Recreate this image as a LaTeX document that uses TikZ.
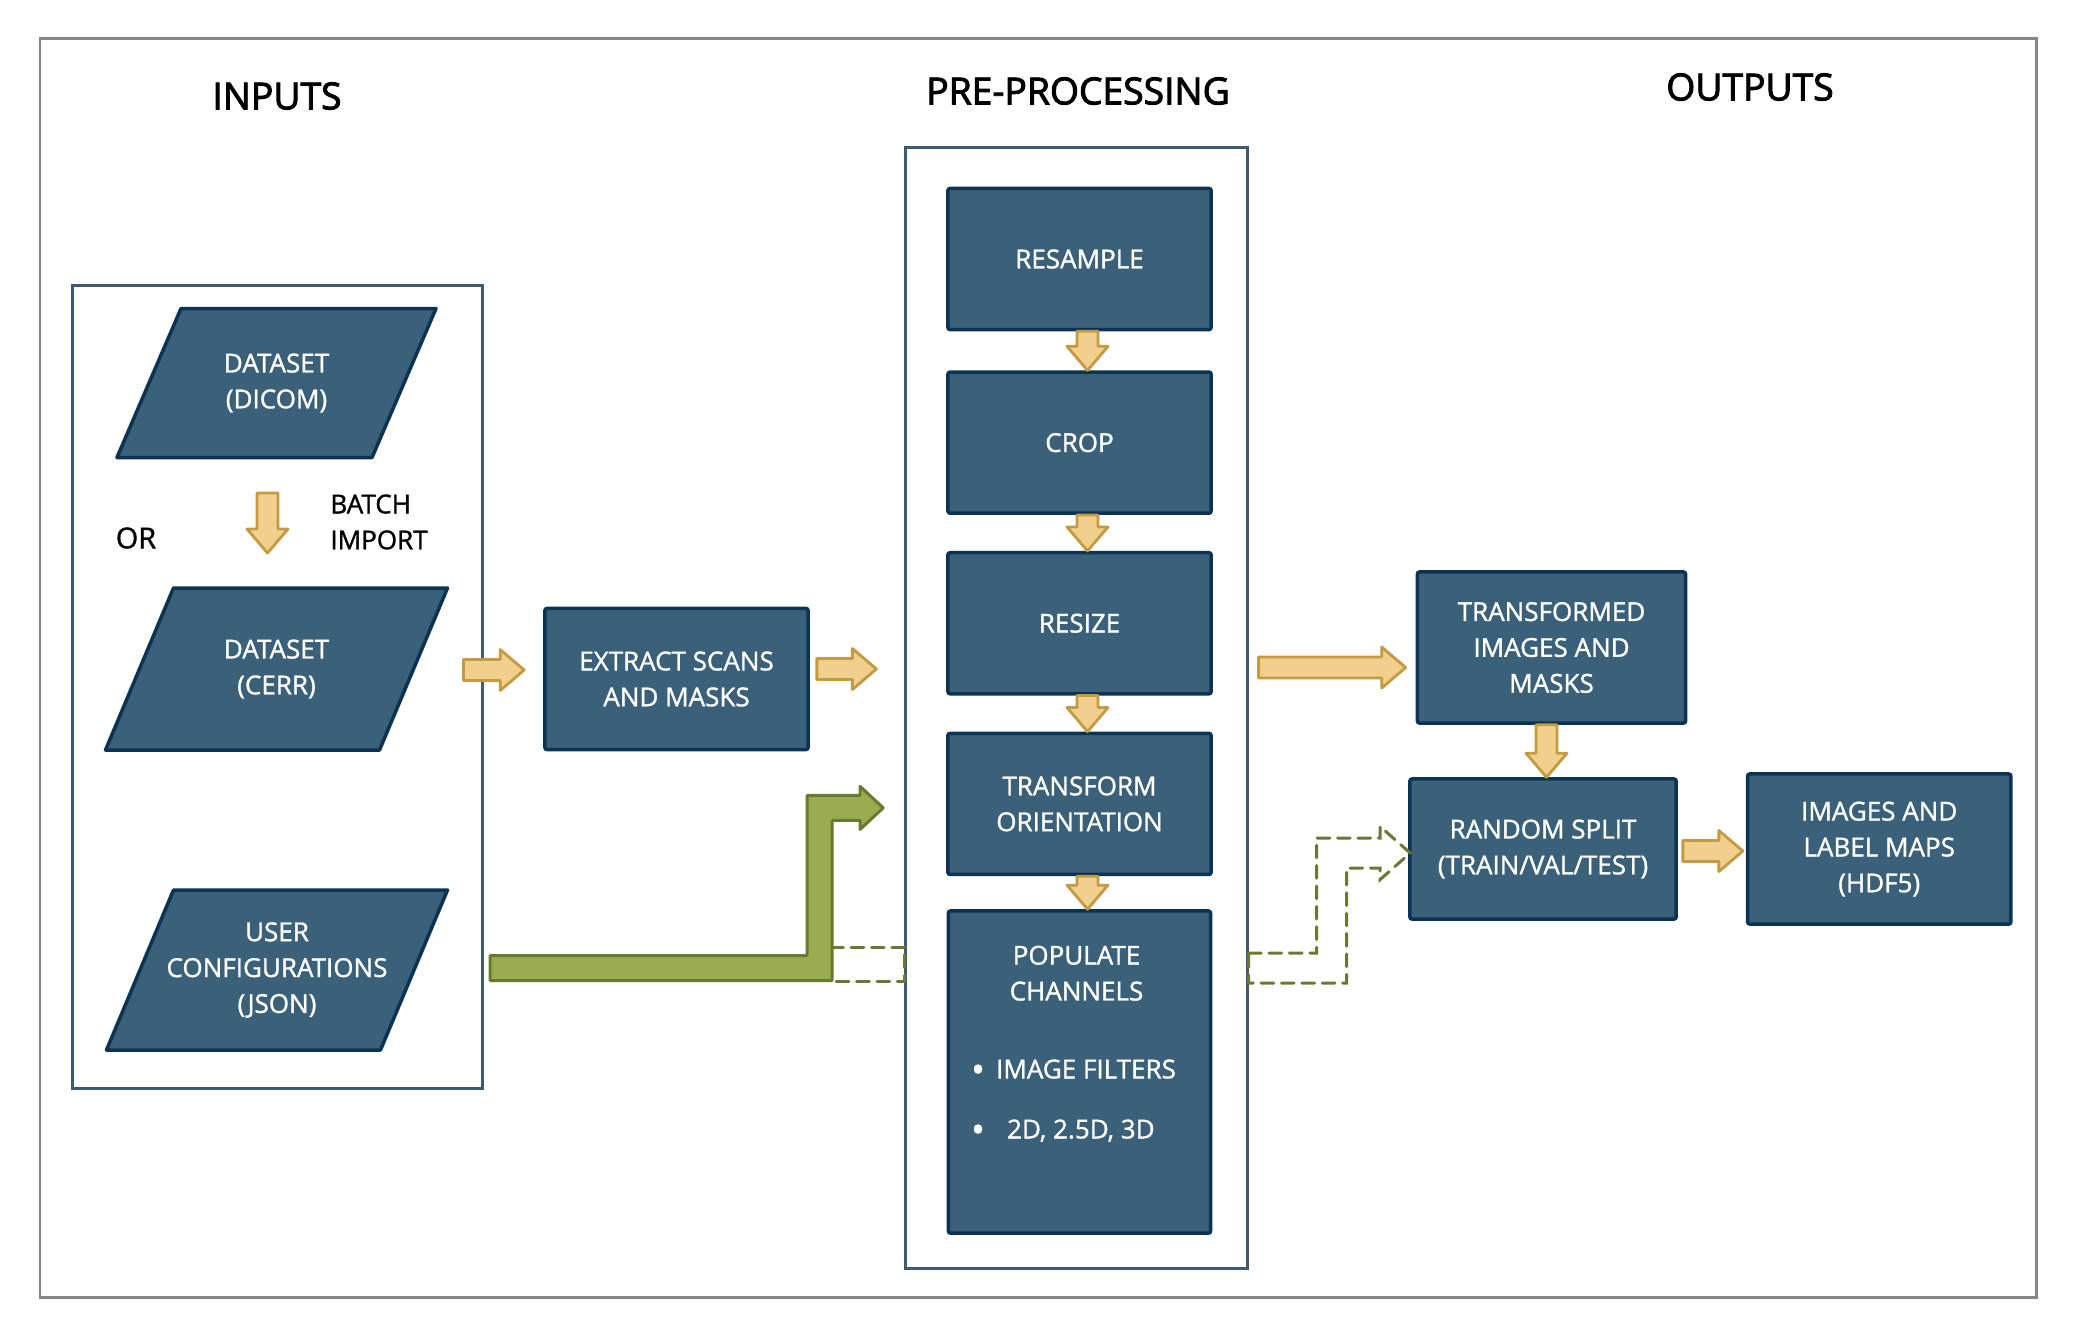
\documentclass[tikz,border=0pt]{standalone}
\usepackage{fontspec}
\setmainfont{Open Sans}
\newfontfamily\headfamily[FakeBold=2.5]{Open Sans}
\newfontfamily\labelfamily[FakeBold=1.2]{Open Sans}
\usetikzlibrary{positioning,calc,backgrounds}

\definecolor{boxfill}{HTML}{3A6179}
\definecolor{boxline}{HTML}{0C3452}
\definecolor{panelline}{HTML}{3F5B74}
\definecolor{framegray}{HTML}{868686}
\definecolor{arrowfill}{HTML}{F0D08C}
\definecolor{arrowline}{HTML}{C49A42}
\definecolor{greenfill}{HTML}{9AAC52}
\definecolor{greenline}{HTML}{6B782F}

\newcommand{\boxfont}{\labelfamily\fontsize{7.4}{10.2}\selectfont}
\newcommand{\headfont}{\headfamily\fontsize{10.6}{12}\selectfont}
\newcommand{\bigdot}{\raisebox{-0.3ex}{\fontsize{10.5}{10}\selectfont\textbullet}}

\tikzset{
  stage/.style={rectangle, draw=boxline, fill=boxfill, line width=1pt, rounded corners=0.6pt,
    text=white, font=\boxfont, align=center, inner sep=0pt, minimum width=2.63cm, minimum height=1.41cm},
  datatext/.style={text=white, font=\boxfont, align=center},
  dataform/.style={draw=boxline, fill=boxfill, line width=1pt, line join=round},
  panel/.style={rectangle, draw=panelline, line width=0.85pt, inner sep=0pt},
  heading/.style={font=\headfont, text=black},
  note/.style={font=\boxfont, text=black, align=left},
  fatright/.style={draw=arrowline, fill=arrowfill, line width=0.8pt, line join=round,
    to path={let \p1=(\tikztostart), \p2=(\tikztotarget) in
      (\x1,\y1-0.105cm) -- (\x2-0.24cm,\y1-0.105cm) -- (\x2-0.24cm,\y1-0.205cm) -- (\x2,\y1)
      -- (\x2-0.24cm,\y1+0.205cm) -- (\x2-0.24cm,\y1+0.105cm) -- (\x1,\y1+0.105cm) -- cycle}},
  fatdown/.style={draw=arrowline, fill=arrowfill, line width=0.8pt, line join=round,
    to path={let \p1=(\tikztostart), \p2=(\tikztotarget) in
      (\x1-0.105cm,\y1) -- (\x1-0.105cm,\y2+0.24cm) -- (\x1-0.205cm,\y2+0.24cm) -- (\x1,\y2)
      -- (\x1+0.205cm,\y2+0.24cm) -- (\x1+0.105cm,\y2+0.24cm) -- (\x1+0.105cm,\y1) -- cycle}},
  bentup/.style n args={4}{to path={let \p1=(\tikztostart), \p2=(\tikztotarget) in
      (\x1,\y1+#1) -- (\x2-#2-#1,\y1+#1) -- (\x2-#2-#1,\y2+#1) -- (\x2-#3,\y2+#1) -- (\x2-#3,\y2+#4)
      -- (\x2,\y2) -- (\x2-#3,\y2-#4) -- (\x2-#3,\y2-#1) -- (\x2-#2+#1,\y2-#1) -- (\x2-#2+#1,\y1-#1)
      -- (\x1,\y1-#1) -- cycle}},
  greenarrow/.style={draw=greenline, fill=greenfill, line width=0.85pt, line join=round,
    bentup={0.125cm}{0.635cm}{0.23cm}{0.215cm}},
  dashgreen/.style={draw=greenline, line width=0.85pt, dash pattern=on 3.6pt off 2.2pt, line cap=round}
}

\begin{document}
\begin{tikzpicture}[x=0.01cm, y=-0.01cm]
  \useasboundingbox (0,0) rectangle (2076,1338);

  % frame and headings
  \draw[draw=framegray, line width=0.85pt] (40,38) rectangle (2036,1297);
  \node[heading] (intitle) at (277,96) {INPUTS};
  \node[heading] (pretitle) at (1078,91) {PRE-PROCESSING};
  \node[heading] (outtitle) at (1750,87) {OUTPUTS};

  % inputs
  \node[panel, minimum width=4.10cm, minimum height=8.02cm] (inputs) at (277.5,687) {};
  \node[datatext] (dicom) at (276.5,383) {DATASET\\(DICOM)};
  \node[datatext] (cerr) at (276.5,669) {DATASET\\(CERR)};
  \node[datatext] (usercfg) at (277,970) {USER\\CONFIGURATIONS\\(JSON)};
  \begin{scope}[on background layer]
    \fill[white] (0,0) rectangle (2076,1338);
    \foreach \n/\w/\o/\h in {dicom/255/64/149, cerr/274/68/162, usercfg/274/67/160}
      \draw[dataform] ($(\n.center)+({-(\w+\o)/2},{\h/2})$) -- ++(\w,0) -- ++(\o,-\h) -- ++(-\w,0) -- cycle;
  \end{scope}
  \node[note, font=\labelfamily\fontsize{8.2}{10}\selectfont] (ortext) at (136,538) {OR};
  \node[note, anchor=west] (batch) at (318,522) {BATCH\\IMPORT};
  \draw[fatdown] ($(dicom.center)+(-9,110)$) to ($(cerr.center)+(-9,-116)$);

  \node[stage] (extract) at (676.5,679) {EXTRACT SCANS\\AND MASKS};

  % pre-processing
  \node[panel, minimum width=3.41cm, minimum height=11.20cm] (preproc) at (1076.5,708) {};
  \node[stage] (resample) at (1079.5,259) {RESAMPLE};
  \node[stage, below=0.39cm of resample] (crop) {CROP};
  \node[stage, below=0.36cm of crop] (resize) {RESIZE};
  \node[stage, below=0.36cm of resize] (transform) {TRANSFORM\\ORIENTATION};
  \node[stage, below=0.33cm of transform, minimum width=2.62cm, minimum height=3.22cm] (populate) {};
  \node[datatext] (poptitle) at ($(populate.north)+(-3,64)$) {POPULATE\\CHANNELS};
  \node[datatext, anchor=west] (filters) at ($(populate.west)+(12,-1)$) {\makebox[0.25cm][l]{\bigdot}IMAGE FILTERS};
  \node[datatext, anchor=west] (dims) at ($(populate.west)+(12,59)$) {\makebox[0.36cm][l]{\bigdot}2D, 2.5D, 3D};
  \foreach \a/\b in {resample/crop, crop/resize, resize/transform, transform/populate}
    \draw[fatdown] ($(\a.south)+(8,0)$) to (\b.north);

  % outputs
  \node[stage, minimum width=2.68cm, minimum height=1.51cm] (transformed) at (1551.5,647.5) {TRANSFORMED\\IMAGES AND\\MASKS};
  \node[stage, minimum width=2.66cm, minimum height=1.40cm] (randsplit) at (1543,849) {RANDOM SPLIT\\(TRAIN/VAL/TEST)};
  \node[stage, minimum height=1.50cm, right=0.68cm of randsplit] (images) {IMAGES AND\\LABEL MAPS\\(HDF5)};

  % arrows
  \draw[fatright] ($(cerr.center)+(187,1)$) to ($(extract.west)+(-19,-10)$);
  \draw[fatright] ($(extract.east)+(7,-10)$) to ($(preproc.west)+(-28,0)$);
  \draw[fatright] ($(preproc.east |- transformed.west)+(10,20)$) to ($(transformed.west)+(-10,20)$);
  \draw[fatdown] ($(transformed.south)+(-5,0)$) to (randsplit.north);
  \draw[fatright] ($(randsplit.east)+(5,2)$) to ($(images.west)+(-3,0)$);

  \draw[dashgreen] ($(preproc.west |- usercfg.east)+(-75,-23)$) rectangle ($(preproc.west |- usercfg.east)+(0,11)$);
  \draw[greenarrow] ($(inputs.east |- usercfg.east)+(6,-2)$) to ($(transform.west)+(-63,4)$);
  \draw[dashgreen, bentup={0.15cm}{0.785cm}{0.30cm}{0.265cm}] ($(preproc.east |- usercfg.east)+(0,-2)$) to ($(randsplit.west)+(2,4)$);
\end{tikzpicture}
\end{document}
